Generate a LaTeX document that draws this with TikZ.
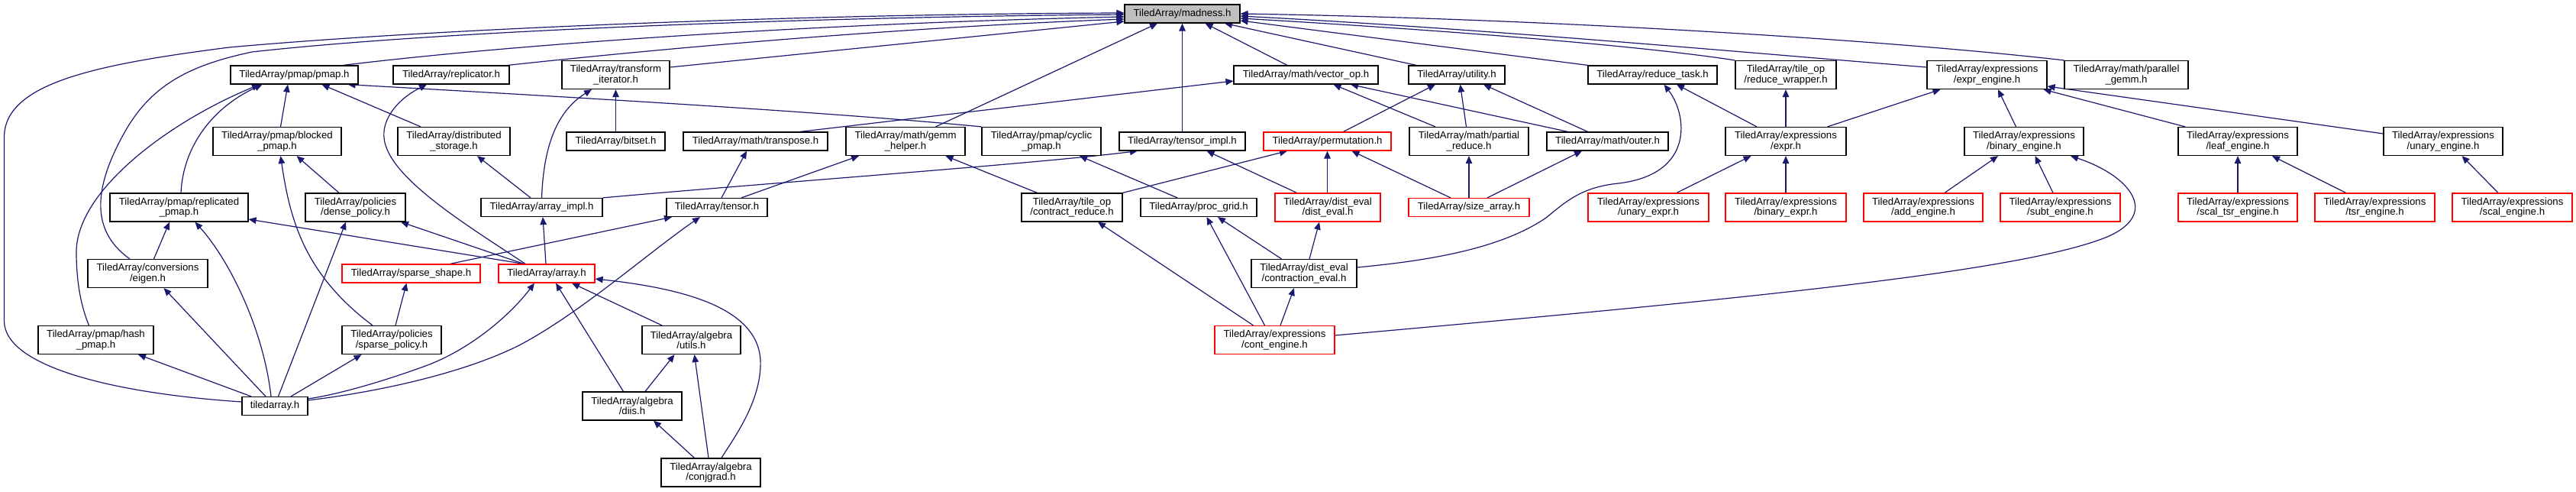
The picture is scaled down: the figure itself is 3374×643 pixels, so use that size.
\documentclass[tikz,border=0pt]{standalone}
\usepackage{fontspec}
\setmainfont{Liberation Sans}
\usetikzlibrary{arrows.meta}
\definecolor{edgecol}{HTML}{191970}
\definecolor{rootfill}{HTML}{BFBFBF}
\pgfdeclarelayer{bg}
\pgfdeclarelayer{paper}
\pgfsetlayers{paper,bg,main}
\begin{document}
\begin{tikzpicture}[x=1pt,y=-1pt,
  nd/.style={draw=black, fill=white, line width=1.2pt, inner sep=0pt, align=center,
    font=\fontsize{13.2}{13.4}\selectfont, minimum height=24pt},
  nd2/.style={nd, minimum height=37pt},
  rd/.style={draw=red},
  ln/.style={draw=edgecol, line width=1.2pt, {Triangle[length=10pt,width=8.5pt]}-}]
\begin{pgfonlayer}{paper}
\fill[white] (0,0) rectangle (3374,643);
\end{pgfonlayer}
\useasboundingbox (0,0) rectangle (3374,643);
% row 0
\node[nd,fill=rootfill,minimum width=151pt] (madness) at (1548.5,18) {TiledArray/madness.h};
% row 1
\node[nd,minimum width=167pt] (pmap) at (385.5,98) {TiledArray/pmap/pmap.h};
\node[nd,minimum width=152pt] (replicator) at (591,98) {TiledArray/replicator.h};
\node[nd2,minimum width=141pt] (transform) at (806.5,98) {TiledArray/transform\\\_iterator.h};
\node[nd,minimum width=189pt] (vectorop) at (1710.5,98) {TiledArray/math/vector\_op.h};
\node[nd,minimum width=126pt] (utility) at (1908,98) {TiledArray/utility.h};
\node[nd,minimum width=169pt] (reducetask) at (2164.5,98) {TiledArray/reduce\_task.h};
\node[nd2,minimum width=132pt] (reducewrapper) at (2339,98) {TiledArray/tile\_op\\/reduce\_wrapper.h};
\node[nd2,minimum width=157pt] (exprengine) at (2602.5,98) {TiledArray/expressions\\/expr\_engine.h};
\node[nd2,minimum width=162pt] (pgemm) at (2785,98) {TiledArray/math/parallel\\\_gemm.h};
% row 2
\node[nd2,minimum width=168pt] (blocked) at (363,185) {TiledArray/pmap/blocked\\\_pmap.h};
\node[nd2,minimum width=147pt] (diststorage) at (594.5,185) {TiledArray/distributed\\\_storage.h};
\node[nd,minimum width=129pt] (bitset) at (806.5,185) {TiledArray/bitset.h};
\node[nd,minimum width=189pt] (transpose) at (989.5,185) {TiledArray/math/transpose.h};
\node[nd2,minimum width=156pt] (gemmhelper) at (1186,185) {TiledArray/math/gemm\\\_helper.h};
\node[nd2,minimum width=156pt] (cyclic) at (1364,185) {TiledArray/pmap/cyclic\\\_pmap.h};
\node[nd,minimum width=165pt] (tensorimpl) at (1548.5,185) {TiledArray/tensor\_impl.h};
\node[nd,rd,minimum width=167pt] (permutation) at (1738.5,185) {TiledArray/permutation.h};
\node[nd2,minimum width=156pt] (partialreduce) at (1924,185) {TiledArray/math/partial\\\_reduce.h};
\node[nd,minimum width=159pt] (outer) at (2105.5,185) {TiledArray/math/outer.h};
\node[nd2,minimum width=158pt] (expr) at (2339,185) {TiledArray/expressions\\/expr.h};
\node[nd2,minimum width=156pt] (binaryengine) at (2651,185) {TiledArray/expressions\\/binary\_engine.h};
\node[nd2,minimum width=156pt] (leafengine) at (2931,185) {TiledArray/expressions\\/leaf\_engine.h};
\node[nd2,minimum width=156pt] (unaryengine) at (3200,185) {TiledArray/expressions\\/unary\_engine.h};
% row 3
\node[nd2,minimum width=181pt] (replicated) at (234.5,271.5) {TiledArray/pmap/replicated\\\_pmap.h};
\node[nd2,minimum width=131pt] (dense) at (465.5,271.5) {TiledArray/policies\\/dense\_policy.h};
\node[nd,minimum width=159pt] (arrayimpl) at (709.5,271.5) {TiledArray/array\_impl.h};
\node[nd,minimum width=132pt] (tensor) at (939,271.5) {TiledArray/tensor.h};
\node[nd2,minimum width=132pt] (contractreduce) at (1404,271.5) {TiledArray/tile\_op\\/contract\_reduce.h};
\node[nd,minimum width=152pt] (procgrid) at (1570,271.5) {TiledArray/proc\_grid.h};
\node[nd2,rd,minimum width=138pt] (disteval) at (1739,271.5) {TiledArray/dist\_eval\\/dist\_eval.h};
\node[nd,rd,minimum width=158pt] (sizearray) at (1924,271.5) {TiledArray/size\_array.h};
\node[nd2,rd,minimum width=158pt] (unaryexpr) at (2159,271.5) {TiledArray/expressions\\/unary\_expr.h};
\node[nd2,rd,minimum width=158pt] (binaryexpr) at (2339,271.5) {TiledArray/expressions\\/binary\_expr.h};
\node[nd2,rd,minimum width=156pt] (addengine) at (2519,271.5) {TiledArray/expressions\\/add\_engine.h};
\node[nd2,rd,minimum width=157pt] (subtengine) at (2698.5,271.5) {TiledArray/expressions\\/subt\_engine.h};
\node[nd2,rd,minimum width=156pt] (scaltsr) at (2931,271.5) {TiledArray/expressions\\/scal\_tsr\_engine.h};
\node[nd2,rd,minimum width=157pt] (tsrengine) at (3110.5,271.5) {TiledArray/expressions\\/tsr\_engine.h};
\node[nd2,rd,minimum width=157pt] (scalengine) at (3290.5,271.5) {TiledArray/expressions\\/scal\_engine.h};
% row 4
\node[nd2,minimum width=157pt] (eigen) at (193.5,358) {TiledArray/conversions\\/eigen.h};
\node[nd,rd,minimum width=181pt] (sparseshape) at (538.5,358) {TiledArray/sparse\_shape.h};
\node[nd,rd,minimum width=126pt] (array) at (716,358) {TiledArray/array.h};
\node[nd2,minimum width=138pt] (contractioneval) at (1708,358) {TiledArray/dist\_eval\\/contraction\_eval.h};
% row 5
\node[nd2,minimum width=151pt] (hashpmap) at (125.5,445) {TiledArray/pmap/hash\\\_pmap.h};
\node[nd2,minimum width=130pt] (sparsepolicy) at (513,445) {TiledArray/policies\\/sparse\_policy.h};
\node[nd2,minimum width=129pt] (utils) at (905.5,445) {TiledArray/algebra\\/utils.h};
\node[nd2,rd,minimum width=157pt] (contengine) at (1669.5,445) {TiledArray/expressions\\/cont\_engine.h};
% row 6, 7
\node[nd,minimum width=86pt] (tiledarray) at (360,531.5) {tiledarray.h};
\node[nd2,minimum width=130pt] (diis) at (828,531.5) {TiledArray/algebra\\/diis.h};
\node[nd2,minimum width=130pt] (conjgrad) at (931,618.5) {TiledArray/algebra\\/conjgrad.h};

\begin{pgfonlayer}{bg}
% into madness.h
\draw[ln] ([yshift=1pt]madness.west) .. controls (1100,18) and (600,35) .. (300,62)
  .. controls (120,85) and (5.5,110) .. (5.5,180) -- (5.5,420)
  .. controls (5.5,480) and (150,515) .. ([yshift=5.5pt]tiledarray.west);
\draw[ln] ([yshift=-1pt]madness.west) .. controls (1100,22) and (600,38) .. (330,68)
  .. controls (250,85) and (200,110) .. (165,170)
  .. controls (125,240) and (115,300) .. ([xshift=-23.5pt]eigen.north);
\draw[ln] ([yshift=-4pt]madness.west) .. controls (1100,30) and (700,55) .. ([xshift=64pt]pmap.north);
\draw[ln] ([yshift=-7pt]madness.west) .. controls (1200,35) and (900,60) .. ([xshift=74pt]replicator.north);
\draw[ln] ([yshift=-10pt]madness.west) -- ([yshift=10pt]transform.east);
\draw[ln] ([xshift=-32.5pt]madness.south) -- ([xshift=39.5pt]gemmhelper.north);
\draw[ln] (madness.south) -- (tensorimpl.north);
\draw[ln] ([xshift=30pt]madness.south) -- ([xshift=-24.5pt]vectorop.north);
\draw[ln] ([xshift=55.5pt]madness.south) -- ([xshift=-53pt]utility.north);
\draw[ln] ([yshift=-9pt]madness.east) -- (reducetask.north west);
\draw[ln] ([yshift=-6pt]madness.east) .. controls (1900,40) and (2150,60) .. (reducewrapper.north west);
\draw[ln] ([yshift=-3pt]madness.east) .. controls (1950,38) and (2300,70) .. ([yshift=10pt]exprengine.west);
\draw[ln] (madness.east) .. controls (2000,24) and (2450,50) .. (pgemm.north west);
% pmap.h
\draw[ln] ([xshift=-45.5pt]pmap.south) .. controls (220,160) and (100,250) .. (100,330)
  .. controls (100,380) and (110,410) .. ([xshift=-9pt]hashpmap.north);
\draw[ln] ([xshift=-42pt]pmap.south) .. controls (280,140) and (240,190) .. ([xshift=2.5pt]replicated.north);
\draw[ln] ([xshift=-8.5pt]pmap.south) -- ([xshift=4.5pt]blocked.north);
\draw[ln] ([xshift=36pt]pmap.south) -- ([xshift=-43.5pt]diststorage.north);
\draw[ln] ([xshift=70pt]pmap.south) .. controls (800,130) and (1100,148) .. (cyclic.north west);
% replicator, transform
\draw[ln] ([xshift=-32pt]replicator.south) .. controls (520,130) and (495,160) .. (505,190)
  .. controls (520,240) and (620,300) .. ([xshift=-28pt]array.north);
\draw[ln] ([xshift=-31.5pt]transform.south) .. controls (730,145) and (712,190) .. (arrayimpl.north);
\draw[ln] (transform.south) -- (bitset.north);
% row 2 -> below
\draw[ln] ([xshift=30.5pt]diststorage.south) -- ([xshift=-14.5pt]arrayimpl.north);
\draw[ln] ([xshift=-11.5pt]transpose.south) -- ([xshift=6pt]tensor.north);
\draw[ln] ([yshift=-8pt]vectorop.west) -- ([xshift=58.5pt]transpose.north);
\draw[ln] ([xshift=-61pt]gemmhelper.south) -- ([xshift=32pt]tensor.north);
\draw[ln] ([xshift=1.5pt]arrayimpl.south) -- ([xshift=-1pt]array.north);
\draw[ln] ([xshift=-58.5pt]tensorimpl.south) .. controls (1350,215) and (1000,240) .. (arrayimpl.north east);
\draw[ln] ([xshift=-59pt]tensor.south) -- ([xshift=51pt]sparseshape.north);
% array.h
\draw[ln] ([xshift=12pt]array.south) -- ([xshift=-11.5pt]diis.north);
\draw[ln] ([xshift=33pt]array.south) -- ([xshift=-38.5pt]utils.north);
\draw[ln] ([yshift=-7pt]array.east) .. controls (900,378) and (1000,405) .. (996,480)
  .. controls (994,530) and (960,575) .. ([xshift=14pt]conjgrad.north);
\draw[ln] ([xshift=-22pt]utils.south) -- ([xshift=17pt]diis.north);
\draw[ln] ([xshift=4pt]utils.south) -- ([xshift=-3pt]conjgrad.north);
\draw[ln] ([xshift=28pt]diis.south) -- ([xshift=-21.5pt]conjgrad.north);
\draw[ln] ([xshift=-16pt]array.south) .. controls (670,410) and (620,455) .. (560,478)
  .. controls (500,500) and (440,517) .. ([yshift=-3pt]tiledarray.north east);
\draw[ln] ([xshift=-22pt]tensor.south) .. controls (850,330) and (760,410) .. (680,452)
  .. controls (600,492) and (480,515) .. ([yshift=-5pt]tiledarray.north east);
% tiledarray.h
\draw[ln] ([xshift=-39.5pt]sparsepolicy.south) -- ([xshift=21pt]tiledarray.north);
\draw[ln] ([xshift=55.5pt]hashpmap.south) -- ([xshift=-31pt]tiledarray.north);
\draw[ln] ([xshift=21pt]eigen.south) -- ([xshift=-12pt]tiledarray.north);
\draw[ln] ([xshift=21pt]replicated.south) .. controls (300,340) and (345,430) .. ([xshift=-5pt]tiledarray.north);
\draw[ln] ([xshift=-12.5pt]dense.south) -- ([xshift=4.5pt]tiledarray.north);
\draw[ln] ([xshift=-12.5pt]replicated.south) -- ([xshift=8pt]eigen.north);
\draw[ln] ([xshift=25.5pt]blocked.south) -- ([xshift=-21.5pt]dense.north);
\draw[ln] ([xshift=4.5pt]blocked.south) .. controls (380,290) and (400,360) .. ([xshift=-25pt]sparsepolicy.north);
\draw[ln] ([xshift=-6pt]sparseshape.south) -- ([xshift=5pt]sparsepolicy.north);
\draw[ln] ([yshift=-15.5pt]replicated.east) -- ([xshift=-30pt]array.north);
\draw[ln] ([xshift=59.5pt]dense.south) -- ([xshift=-30pt]array.north);
% middle block
\draw[ln] ([xshift=50pt]cyclic.south) -- ([xshift=-28pt]procgrid.north);
\draw[ln] ([xshift=52.5pt]gemmhelper.south) -- ([xshift=-45.5pt]contractreduce.north);
\draw[ln] ([xshift=32pt]tensorimpl.south) -- ([xshift=-40.5pt]disteval.north);
\draw[ln] ([xshift=-52.5pt]permutation.south) -- (contractreduce.north east);
\draw[ln] ([xshift=10.5pt]procgrid.south) -- ([xshift=-13pt]contengine.north);
\draw[ln] ([xshift=25pt]procgrid.south) -- ([xshift=-29.5pt]contractioneval.north);
\draw[ln] ([xshift=34pt]contractreduce.south) -- ([xshift=-28pt]contengine.north);
\draw[ln] ([xshift=-13pt]contractioneval.south) -- ([xshift=7.5pt]contengine.north);
\draw[ln] ([xshift=36pt]vectorop.south) -- ([xshift=-44pt]partialreduce.north);
\draw[ln] ([xshift=58.5pt]vectorop.south) -- ([xshift=-52pt]outer.north);
\draw[ln] ([xshift=-28pt]utility.south) -- ([xshift=21pt]permutation.north);
\draw[ln] ([xshift=4.5pt]utility.south) -- ([xshift=-3.5pt]partialreduce.north);
\draw[ln] ([xshift=35pt]utility.south) -- ([xshift=-26pt]outer.north);
\draw[ln] (permutation.south) -- ([xshift=-0.5pt]disteval.north);
\draw[ln] ([xshift=32pt]permutation.south) -- ([xshift=-24pt]sizearray.north);
\draw[ln] (partialreduce.south) -- (sizearray.north);
\draw[ln] ([xshift=-33.5pt]outer.south) -- ([xshift=24pt]sizearray.north);
\draw[ln] ([xshift=-11pt]disteval.south) -- ([xshift=7pt]contractioneval.north);
\draw[ln] ([xshift=15pt]reducetask.south) .. controls (2210,150) and (2220,228) .. (2120,240)
  .. controls (2070,245) and (2050,265) .. (2025,285)
  .. controls (1960,330) and (1850,343) .. ([yshift=8pt]contractioneval.east);
\draw[ln] ([xshift=31.5pt]reducetask.south) -- ([xshift=-38pt]expr.north);
\draw[ln] ([xshift=-45.5pt]expr.south) -- ([xshift=37pt]unaryexpr.north);
\draw[ln] ([xshift=61pt]binaryengine.south) .. controls (2790,230) and (2830,280) .. (2760,310)
  .. controls (2650,355) and (2300,390) .. ([yshift=6pt]contengine.east);
% expressions
\draw[ln] (reducewrapper.south) -- (expr.north);
\draw[ln] ([xshift=-61pt]exprengine.south) -- ([xshift=54.5pt]expr.north);
\draw[ln] ([xshift=14.5pt]exprengine.south) -- ([xshift=-10.5pt]binaryengine.north);
\draw[ln] ([xshift=74pt]exprengine.south) -- ([xshift=-69pt]leafengine.north);
\draw[ln] ([yshift=-15pt]exprengine.east) -- ([yshift=10pt]unaryengine.west);
\draw[ln] (expr.south) -- (binaryexpr.north);
\draw[ln] ([xshift=-34pt]binaryengine.south) -- ([xshift=28pt]addengine.north);
\draw[ln] ([xshift=14.5pt]binaryengine.south) -- ([xshift=-9.5pt]subtengine.north);
\draw[ln] (leafengine.south) -- (scaltsr.north);
\draw[ln] ([xshift=45pt]leafengine.south) -- ([xshift=-38pt]tsrengine.north);
\draw[ln] ([xshift=24.5pt]unaryengine.south) -- ([xshift=-18.5pt]scalengine.north);
\end{pgfonlayer}
\end{tikzpicture}
\end{document}
